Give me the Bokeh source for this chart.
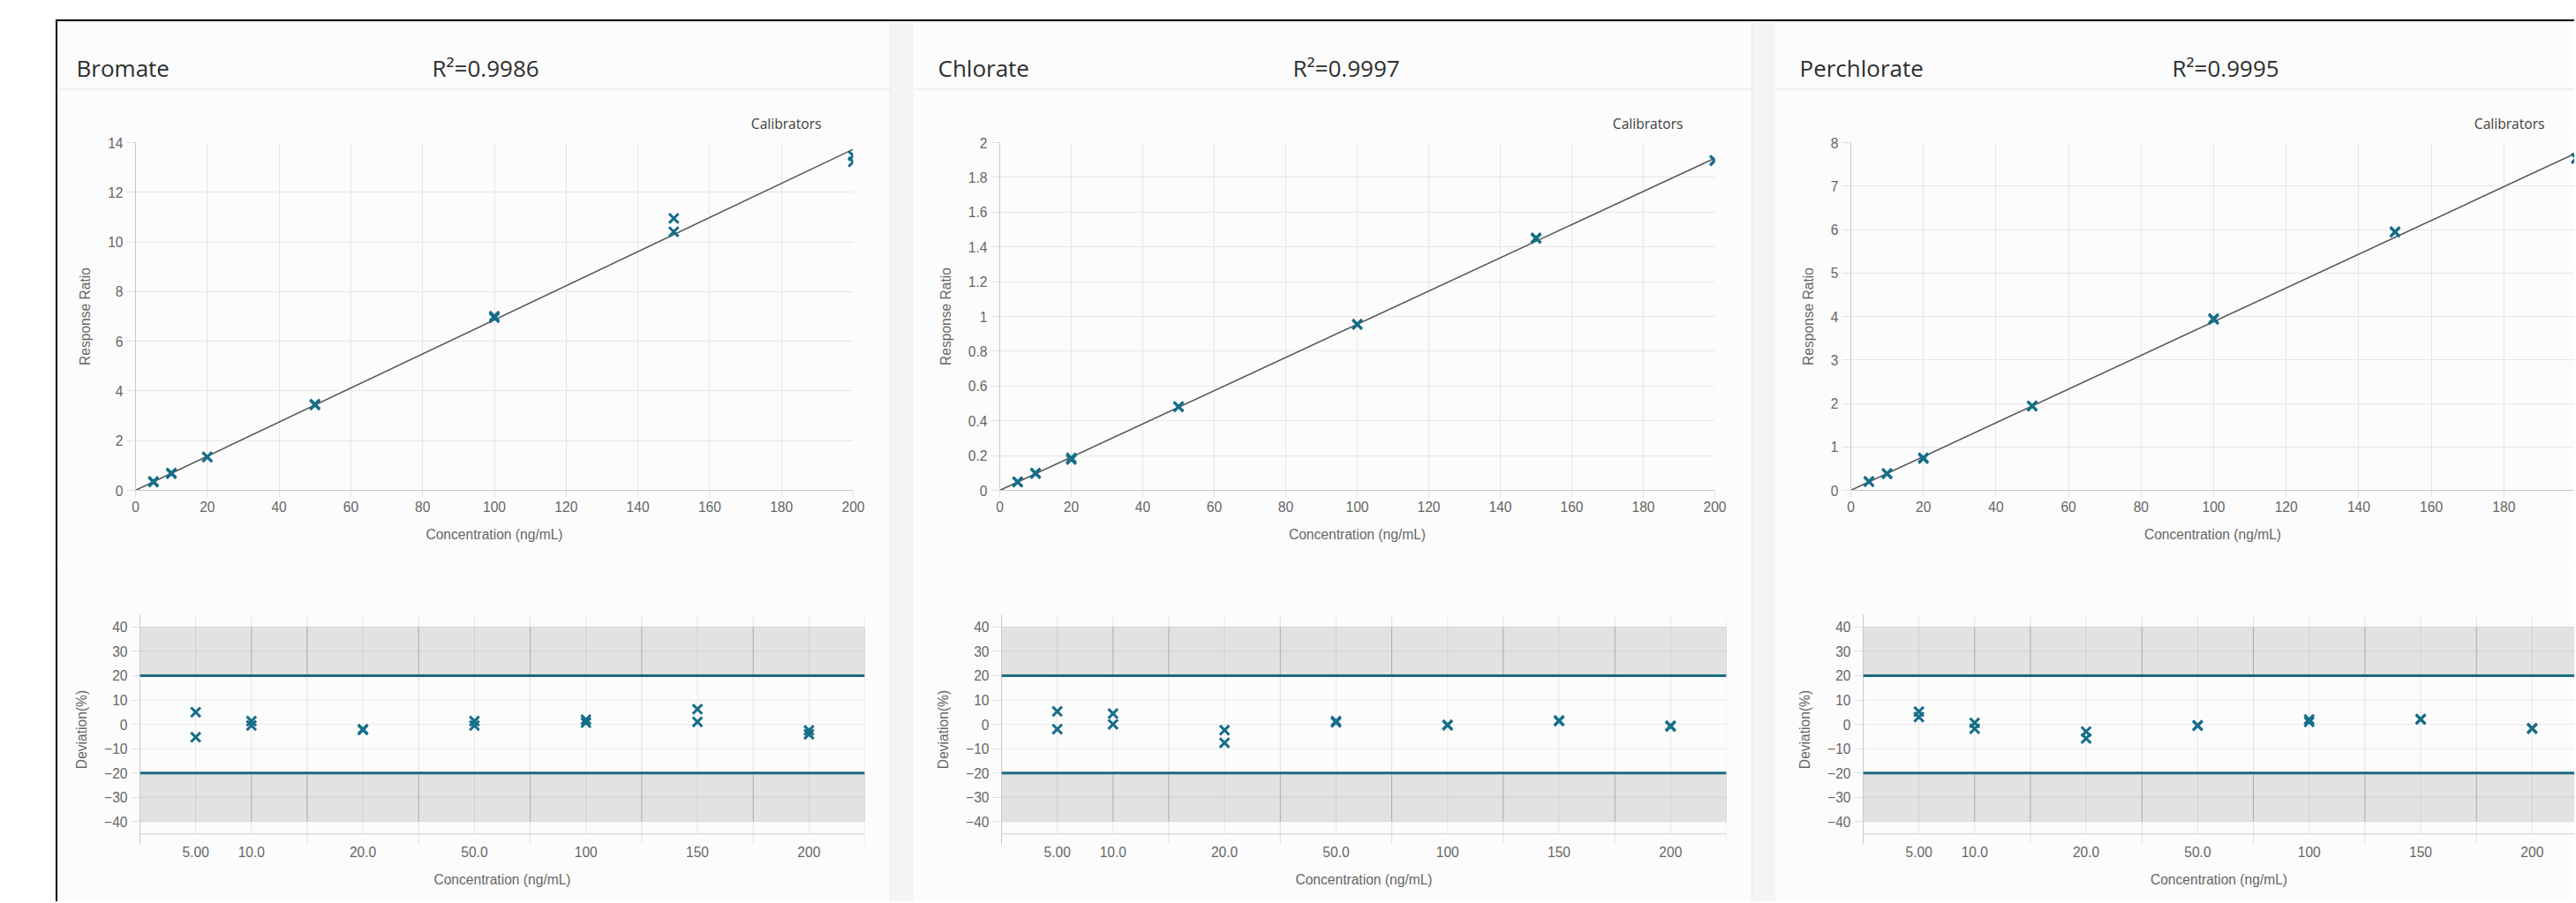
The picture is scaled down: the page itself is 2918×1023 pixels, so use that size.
from bokeh.plotting import figure
from bokeh.models import Range1d, FixedTicker, CustomJSTickFormatter, Span, Spacer
from bokeh.layouts import row, column
from bokeh.embed import file_html
from bokeh.resources import INLINE
from bokeh.core.properties import value

# ---------------- data ----------------
analytes = ["Bromate", "Chlorate", "Perchlorate"]
r2_labels = ["R²=0.9986", "R²=0.9997", "R²=0.9995"]

conc = [5, 5, 10, 10, 20, 20, 50, 50, 100, 100, 150, 150, 200, 200]
bromate_resp = [0.36, 0.33, 0.70, 0.67, 1.35, 1.34, 3.47, 3.43, 7.01, 6.95, 10.95, 10.41, 13.47, 13.22]
chlorate_resp = [0.050, 0.047, 0.100, 0.096, 0.187, 0.177, 0.482, 0.480, 0.956, 0.953, 1.452, 1.448, 1.898, 1.895]
perchlorate_resp = [0.205, 0.199, 0.389, 0.380, 0.750, 0.730, 1.943, 1.938, 3.953, 3.93, 5.95, 5.94, 7.64, 7.63]

fit_x = [0, 200]
bromate_fit = [0.0, 13.73]
chlorate_fit = [0.0, 1.91]
perchlorate_fit = [0.0, 7.76]

level_labels = ["5.00", "10.0", "20.0", "50.0", "100", "150", "200"]
level_pos = [0.5, 1, 2, 3, 4, 5, 6]
dev_pos = [0.5, 0.5, 1, 1, 2, 2, 3, 3, 4, 4, 5, 5, 6, 6]
bromate_dev = [5.0, -5.3, 1.3, -0.5, -2.0, -2.3, 1.3, -0.5, 1.9, 0.7, 6.2, 1.0, -2.5, -4.1]
chlorate_dev = [5.3, -2.0, 4.4, 0.0, -2.4, -7.6, 1.3, 0.8, -0.2, -0.4, 1.6, 1.3, -0.6, -0.9]
perchlorate_dev = [5.2, 3.0, 0.6, -1.8, -3.0, -5.8, -0.4, -0.6, 2.0, 1.0, 2.2, 2.0, -1.6, -1.8]

resp_max = [14, 2, 8]
resp_step = [2, 0.2, 1]
dev_limit = 20
dev_band_outer = 40

responses = [bromate_resp, chlorate_resp, perchlorate_resp]
fits = [bromate_fit, chlorate_fit, perchlorate_fit]
devs = [bromate_dev, chlorate_dev, perchlorate_dev]

# ---------------- style / geometry (panel-relative pixels) ----------------
TEAL = "#156d89"
CARD = "#fcfcfc"
GAP = "#f4f4f4"
TICK_FONT = "Liberation Sans"
FS = "15.6px"

card_left = [65, 59, 59]
card_right = [1008, 1008, 964]
top_frame_left = [153, 156, 144]
TOP_FRAME_RIGHT = 966
DEV_FRAME_LEFT = 158
DEV_FRAME_RIGHT = 979
r2_x = [489, 488, 508]
H_HEAD, H_TOP, H_DEV = 124, 490, 381


def style_axis(ax, tick_out):
    ax.axis_line_color = "#c8c8c8"
    ax.major_tick_line_color = "#e0e0e0"
    ax.major_tick_in = 0
    ax.major_tick_out = tick_out
    ax.minor_tick_line_color = None
    ax.major_label_text_font = TICK_FONT
    ax.major_label_text_font_size = FS
    ax.major_label_text_color = "#666666"
    ax.axis_label_text_font = TICK_FONT
    ax.axis_label_text_font_size = FS
    ax.axis_label_text_font_style = "normal"
    ax.axis_label_text_color = "#666666"


def base_fig(**kw):
    p = figure(toolbar_location=None, output_backend="svg", **kw)
    p.outline_line_color = None
    p.background_fill_color = CARD
    p.border_fill_color = CARD
    return p


def header(k):
    cl, cr = card_left[k], card_right[k]
    p = base_fig(width=cr - cl, height=H_HEAD, x_range=Range1d(cl, cr), y_range=Range1d(150, 26),
                 x_axis_type=None, y_axis_type=None,
                 min_border_left=0, min_border_right=0, min_border_top=0, min_border_bottom=0)
    p.grid.visible = False
    p.text(x=[86], y=[76], text=[analytes[k]], text_font=value("Open Sans"), text_font_size="26px",
           text_color="#2e2e2e", text_baseline="alphabetic", text_align="left")
    p.text(x=[r2_x[k]], y=[76], text=[r2_labels[k]], text_font=value("Open Sans"), text_font_size="26px",
           text_color="#2e2e2e", text_baseline="alphabetic", text_align="left")
    p.segment(x0=[cl], y0=[100.5], x1=[cr], y1=[100.5], line_color="#ebebeb", line_width=1.5)
    p.text(x=[930], y=[139.5], text=["Calibrators"], text_font=value("Open Sans"), text_font_size="15.6px",
           text_color="#3c3c3c", text_baseline="middle", text_align="right")
    return p


def top_plot(k):
    cl, cr = card_left[k], card_right[k]
    fl = top_frame_left[k]
    fr = min(TOP_FRAME_RIGHT, cr)
    x_end = 200 * (fr - fl) / (TOP_FRAME_RIGHT - fl)
    p = base_fig(width=cr - cl, height=H_TOP, x_range=Range1d(0, x_end), y_range=Range1d(0, resp_max[k]),
                 min_border_left=fl - cl, min_border_right=cr - fr, min_border_top=11, min_border_bottom=85)
    nt = int(round(resp_max[k] / resp_step[k]))
    yt = [round(i * resp_step[k], 4) for i in range(nt + 1)]
    xt = list(range(0, 201, 20))
    p.xaxis.ticker = FixedTicker(ticks=xt)
    p.yaxis.ticker = FixedTicker(ticks=yt)
    p.xgrid.ticker = FixedTicker(ticks=xt)
    p.ygrid.ticker = FixedTicker(ticks=yt)
    p.grid.grid_line_color = "#e6e6e6"
    p.yaxis.formatter = CustomJSTickFormatter(code="return String(Math.round(tick*100)/100);")
    style_axis(p.xaxis[0], 8)
    style_axis(p.yaxis[0], 10)
    p.xaxis.major_label_standoff = 4
    p.yaxis.major_label_standoff = 4
    p.xaxis.axis_label = "Concentration (ng/mL)"
    p.yaxis.axis_label = "Response Ratio"
    p.xaxis.axis_label_standoff = 14
    p.yaxis.axis_label_standoff = 14
    p.line(fit_x, fits[k], line_color="#595959", line_width=1.6)
    p.scatter(conc, responses[k], marker="x", size=15, line_width=3, line_color=TEAL)
    return p


def dev_plot(k):
    cl, cr = card_left[k], card_right[k]
    fl = DEV_FRAME_LEFT
    fr = min(DEV_FRAME_RIGHT, cr)
    x_end = 6.5 * (fr - fl) / (DEV_FRAME_RIGHT - fl)
    y_bot = -49.3
    p = base_fig(width=cr - cl, height=H_DEV, x_range=Range1d(0, x_end), y_range=Range1d(y_bot, 45),
                 min_border_left=fl - cl, min_border_right=cr - fr, min_border_top=56,
                 min_border_bottom=H_DEV - 56 - 260)
    p.grid.visible = False
    p.quad(left=[0, 0], right=[x_end, x_end], bottom=[dev_limit, -dev_band_outer],
           top=[dev_band_outer, -dev_limit], fill_color="#e2e2e2", line_color=None)
    hy = list(range(-40, 41, 10))
    p.segment(x0=[0] * len(hy), y0=hy, x1=[x_end] * len(hy), y1=hy,
              line_color="#000000", line_alpha=0.08, line_width=1)
    p.segment(x0=[0], y0=[-45], x1=[x_end], y1=[-45], line_color="#d8d8d8", line_width=1.2)
    p.segment(x0=level_pos, y0=[-45] * 7, x1=level_pos, y1=[45] * 7,
              line_color="#000000", line_alpha=0.08, line_width=1)
    bnd = [1.5, 2.5, 3.5, 4.5, 5.5, 6.5]
    p.segment(x0=bnd, y0=[y_bot] * 6, x1=bnd, y1=[45] * 6,
              line_color="#000000", line_alpha=0.1, line_width=1)
    dk = [1] + bnd
    for lo, hi in ((dev_limit, dev_band_outer), (-dev_band_outer, -dev_limit)):
        p.segment(x0=dk, y0=[lo] * 7, x1=dk, y1=[hi] * 7,
                  line_color="#000000", line_alpha=0.16, line_width=1)
    for loc in (dev_limit, -dev_limit):
        p.add_layout(Span(location=loc, dimension="width", line_color="#1c6a82", line_width=3))
    p.scatter(dev_pos, devs[k], marker="x", size=15, line_width=3, line_color=TEAL)
    p.yaxis.ticker = FixedTicker(ticks=hy)
    style_axis(p.yaxis[0], 10)
    p.yaxis.major_label_standoff = 4
    p.yaxis.axis_label = "Deviation(%)"
    p.yaxis.axis_label_standoff = 14
    style_axis(p.xaxis[0], 0)
    p.xaxis.axis_line_color = None
    p.xaxis.major_tick_line_color = None
    p.xaxis.ticker = FixedTicker(ticks=level_pos)
    p.xaxis.formatter = CustomJSTickFormatter(args=dict(pos=level_pos, lab=level_labels),
                                              code="const i = pos.indexOf(tick); return i >= 0 ? lab[i] : '';")
    p.xaxis.major_label_standoff = 2
    p.xaxis.axis_label = "Concentration (ng/mL)"
    p.xaxis.axis_label_standoff = 14
    return p


gap_style = {"background-color": GAP, "border-left": "1px solid #e9e9e9", "box-sizing": "border-box"}


def band(figs, h):
    return row(figs[0], Spacer(width=27, height=h, styles=gap_style),
               figs[1], Spacer(width=27, height=h, styles=gap_style),
               figs[2], spacing=0)


inner_w = sum(card_right[k] - card_left[k] for k in range(3)) + 54
inner = column(Spacer(width=inner_w, height=2, styles={"background-color": "#000"}),
               Spacer(width=inner_w, height=2, styles={"background-color": GAP}),
               band([header(k) for k in range(3)], H_HEAD),
               band([top_plot(k) for k in range(3)], H_TOP),
               band([dev_plot(k) for k in range(3)], H_DEV),
               spacing=0)
inner_h = 4 + H_HEAD + H_TOP + H_DEV

root = column(Spacer(width=63 + 2 + inner_w, height=22),
              row(Spacer(width=63, height=inner_h),
                  Spacer(width=2, height=inner_h, styles={"background-color": "#000"}),
                  inner, spacing=0),
              spacing=0)

open("out.html", "w").write(file_html(root, INLINE))
